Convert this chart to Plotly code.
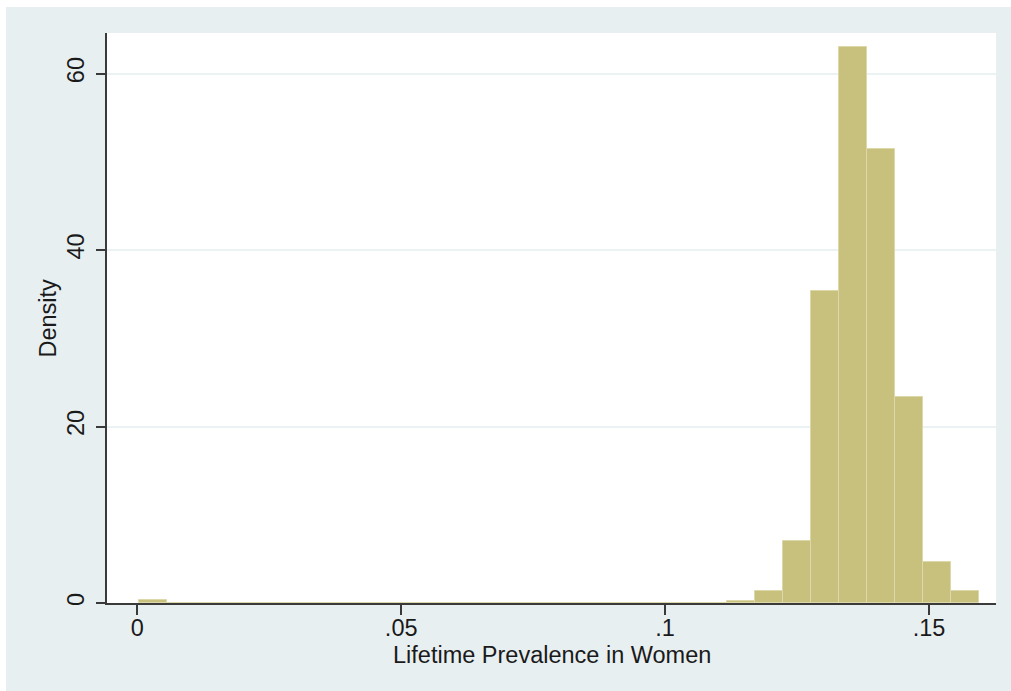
import plotly.graph_objects as go

# Histogram data (density)
bin_start = 0.000356
bin_width = 0.005306
densities = [0.3, 0, 0, 0, 0, 0, 0, 0, 0, 0,
             0, 0, 0, 0, 0, 0, 0, 0, 0, 0,
             0, 0.2, 1.4, 7.0, 35.4, 63.0, 51.5, 23.3, 4.7, 1.4]
x_tickvals = [0, 0.05, 0.1, 0.15]
x_ticktext = ["0", ".05", ".1", ".15"]
y_tickvals = [0, 20, 40, 60]
y_ticktext = ["0", "20", "40", "60"]
x_title = "Lifetime Prevalence in Women"
y_title = "Density"

centers = [bin_start + (i + 0.5) * bin_width for i in range(len(densities))]

FONT = "Liberation Sans, Arial, sans-serif"
OUTER = "#E8EFF1"
TXT = "#1a1a1a"
FS = 23.5

fig = go.Figure()
fig.add_trace(go.Bar(
    x=centers, y=densities, width=bin_width,
    marker=dict(color="#C8C17E", line=dict(color="#DDD8AA", width=1)),
    hoverinfo="x+y",
))

fig.update_layout(
    width=1011, height=691,
    margin=dict(l=107, r=15, t=33, b=88),
    paper_bgcolor=OUTER,
    plot_bgcolor="#FFFFFF",
    showlegend=False,
    bargap=0,
    font=dict(family=FONT, size=FS, color=TXT),
    xaxis=dict(
        range=[-0.00574, 0.1627],
        tickvals=x_tickvals, ticktext=x_ticktext,
        showgrid=False, zeroline=False,
        showline=True, linecolor="#3a3a3a", linewidth=2,
        ticks="outside", ticklen=10, tickwidth=1.5, tickcolor="#3a3a3a",
        ticklabelstandoff=-7,
        tickfont=dict(family=FONT, size=FS, color=TXT),
    ),
    yaxis=dict(
        range=[0, 64.6],
        tickvals=y_tickvals, ticktext=y_ticktext, tickangle=-90,
        showgrid=True, gridcolor="#EAF2F3", gridwidth=1.5,
        zeroline=False,
        showline=True, linecolor="#3a3a3a", linewidth=2,
        ticks="outside", ticklen=9, tickwidth=1.5, tickcolor="#3a3a3a",
        ticklabelstandoff=3,
        tickfont=dict(family=FONT, size=FS, color=TXT),
    ),
    annotations=[
        dict(text=x_title, xref="paper", yref="paper",
             x=0.5, y=(603 - 655) / 570, xanchor="center", yanchor="middle",
             showarrow=False, font=dict(family=FONT, size=FS, color=TXT)),
        dict(text=y_title, xref="paper", yref="paper", textangle=-90,
             x=(47.5 - 107) / 889, y=0.5, xanchor="center", yanchor="middle",
             showarrow=False, font=dict(family=FONT, size=FS, color=TXT)),
    ],
    shapes=[
        dict(type="rect", xref="paper", yref="paper",
             x0=-0.2, x1=(6 - 107) / 889, y0=-0.2, y1=1.1,
             fillcolor="white", line=dict(width=0), layer="above"),
        dict(type="rect", xref="paper", yref="paper",
             x0=-0.2, x1=1.1, y0=(603 - 7) / 570, y1=1.1,
             fillcolor="white", line=dict(width=0), layer="above"),
    ],
)

fig.write_html("out.html")
